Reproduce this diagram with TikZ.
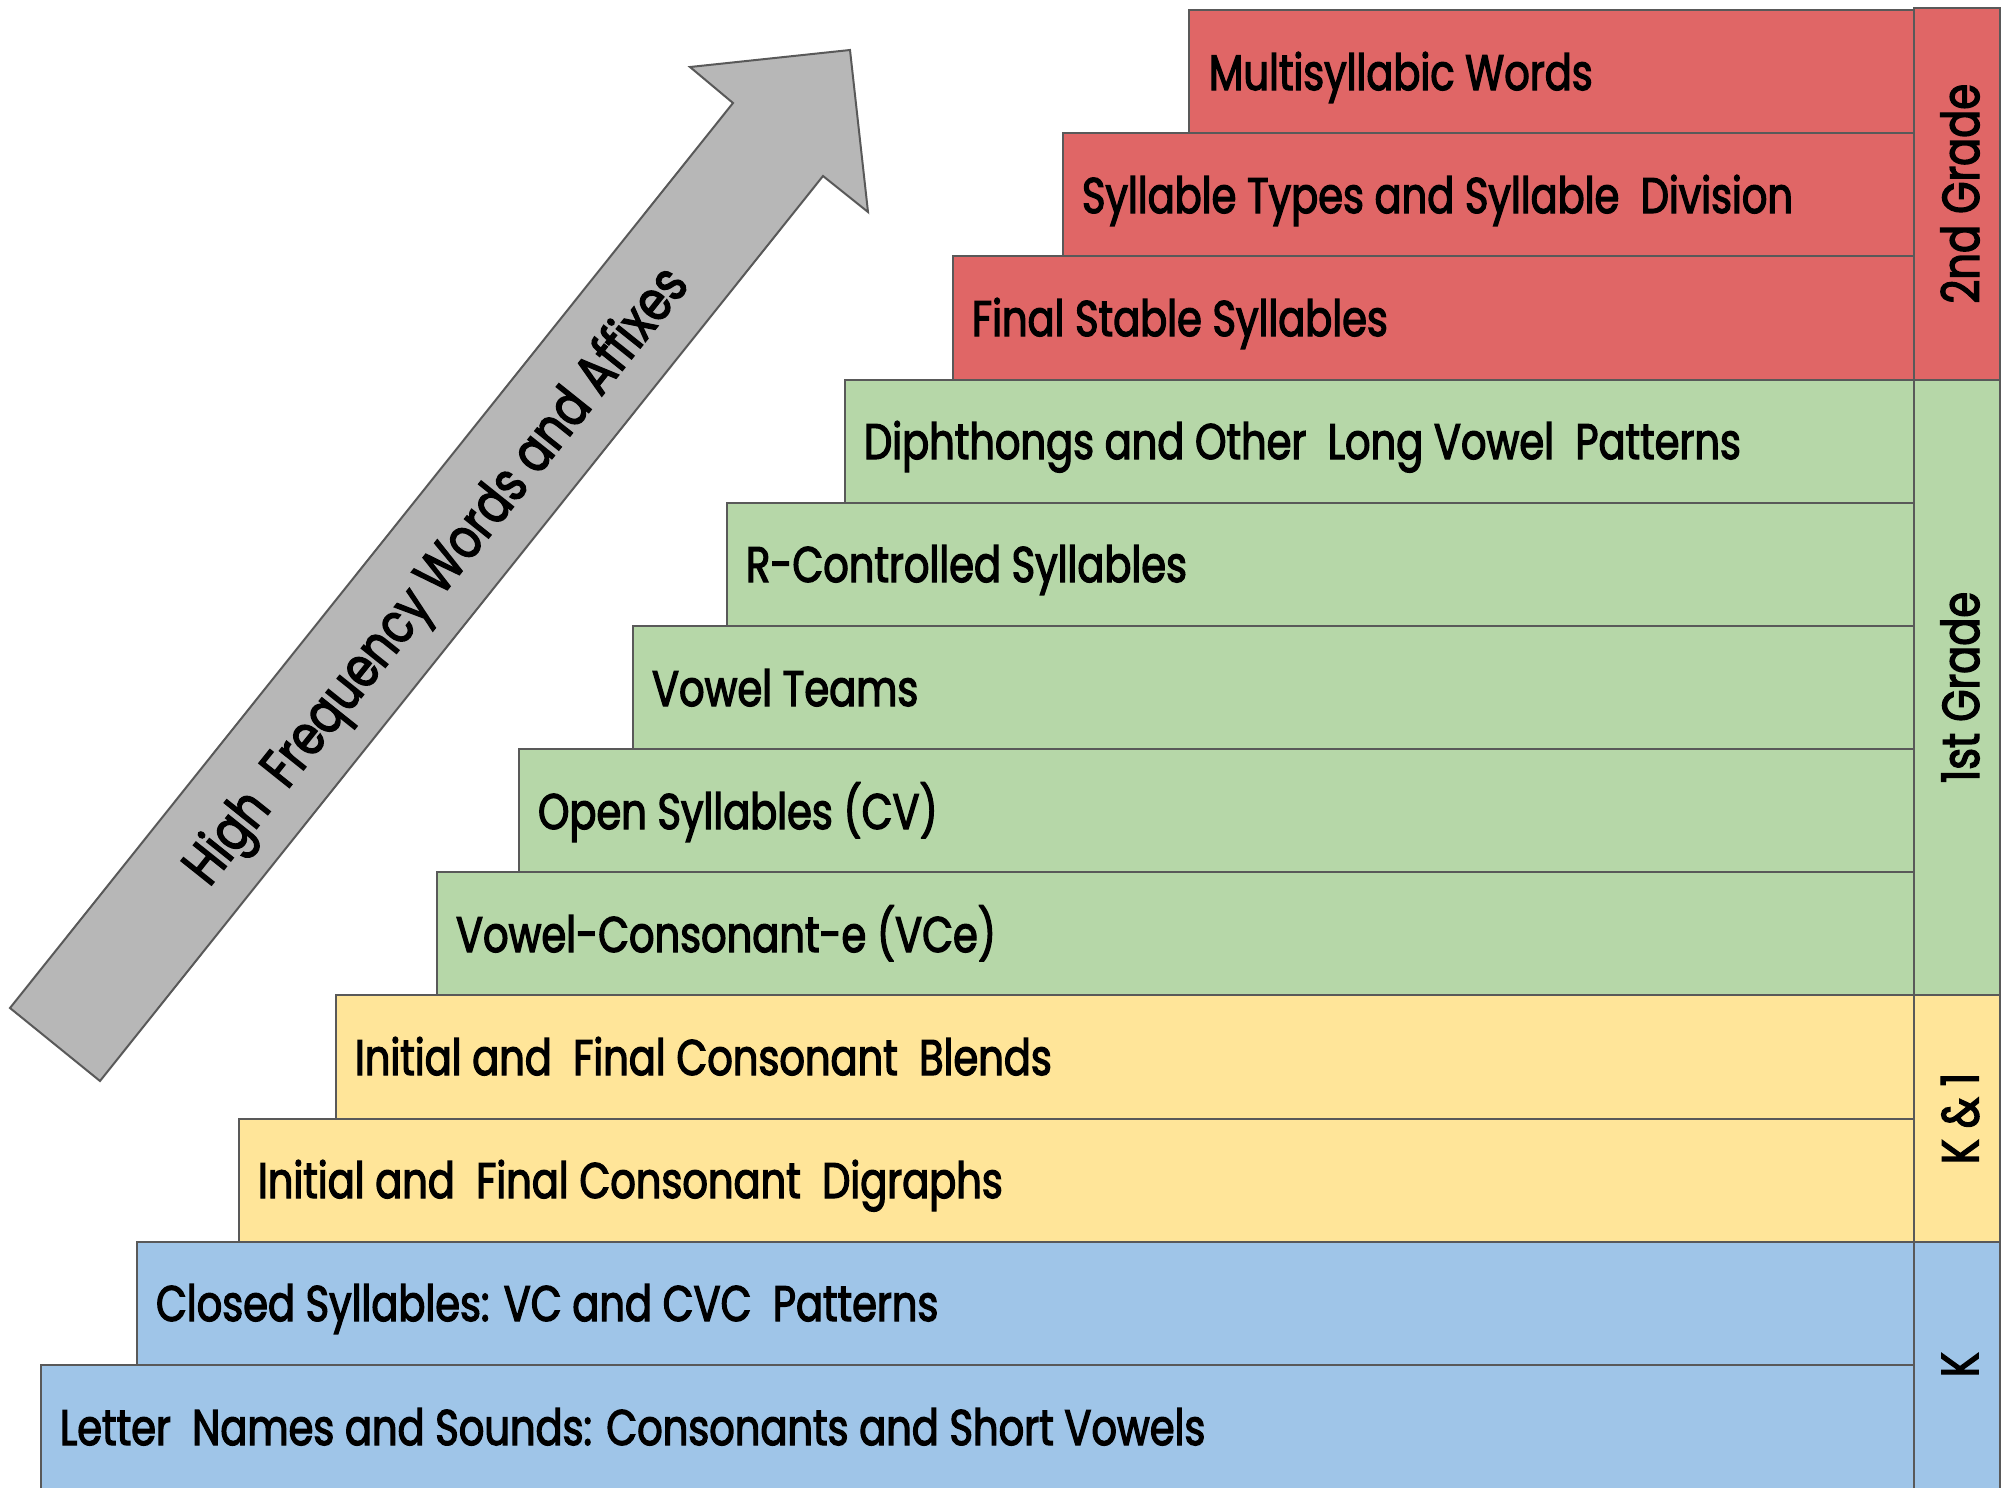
\documentclass[tikz,border=0pt]{standalone}
\usepackage{fontspec}
\setmainfont{Poppins}[FakeStretch=0.8,FakeBold=2.5]
\definecolor{gradetwo}{HTML}{E06666}
\definecolor{gradeone}{HTML}{B6D7A8}
\definecolor{kone}{HTML}{FFE599}
\definecolor{kinder}{HTML}{9FC5E8}
\definecolor{arrowgray}{HTML}{B7B7B7}
\definecolor{edgegray}{HTML}{595959}
\tikzset{every picture/.style={line width=1pt}}
\tikzset{
  stepbox/.style={draw=edgegray},
  steplabel/.style={anchor=base west,inner sep=0pt,font=\fontsize{25}{30}\selectfont},
  gradelabel/.style={rotate=90,inner sep=0pt,font=\fontsize{26}{30}\selectfont}
}
\begin{document}
\begin{tikzpicture}[x=0.5pt,y=0.5pt,yscale=-1,xscale=1]
\useasboundingbox (0,0) rectangle (2014,1488);

%Shape: Arrow
\draw[draw=edgegray,fill=arrowgray] (10,1008) -- (733,103) -- (690,67) -- (850,50) -- (868,212) -- (823,176) -- (100,1081) -- cycle ;
% Text Node
\node[font=\fontsize{28}{30}\selectfont,rotate=51.4] (hfw) at (439,578) {High~ Frequency Words and Affixes};

%Shape: Rectangle
\draw[stepbox,fill=gradetwo] (1189,10) rectangle (1914,133.2) ;
\draw[stepbox,fill=gradetwo] (1063,133.2) rectangle (1914,256.3) ;
\draw[stepbox,fill=gradetwo] (953,256.3) rectangle (1914,379.5) ;
\draw[stepbox,fill=gradeone] (845,379.5) rectangle (1914,502.7) ;
\draw[stepbox,fill=gradeone] (727,502.7) rectangle (1914,625.8) ;
\draw[stepbox,fill=gradeone] (633,625.8) rectangle (1914,749) ;
\draw[stepbox,fill=gradeone] (519,749) rectangle (1914,872.2) ;
\draw[stepbox,fill=gradeone] (437,872.2) rectangle (1914,995.3) ;
\draw[stepbox,fill=kone] (336,995.3) rectangle (1914,1118.5) ;
\draw[stepbox,fill=kone] (239,1118.5) rectangle (1914,1241.7) ;
\draw[stepbox,fill=kinder] (137,1241.7) rectangle (1914,1364.8) ;
\draw[stepbox,fill=kinder] (41,1364.8) rectangle (1914,1490) ;

% Text Node
\node[steplabel] (multi) at (1208,90) {Multisyllabic Words};
\node[steplabel] (types) at (1081,213) {Syllable Types and Syllable~ Division};
\node[steplabel] (stable) at (971,336) {Final Stable Syllables};
\node[steplabel] (diph) at (863,459) {Diphthongs and Other~ Long Vowel~ Patterns};
\node[steplabel] (rctrl) at (745,582) {R-Controlled Syllables};
\node[steplabel] (teams) at (651,706) {Vowel Teams};
\node[steplabel] (open) at (537,829) {Open Syllables (CV)};
\node[steplabel] (vce) at (455,952) {Vowel-Consonant-e (VCe)};
\node[steplabel] (blends) at (354,1075) {Initial and~ Final Consonant~ Blends};
\node[steplabel] (digraphs) at (257,1198) {Initial and~ Final Consonant~ Digraphs};
\node[steplabel] (closed) at (155,1321) {Closed Syllables: VC and CVC~ Patterns};
\node[steplabel] (letters) at (59,1445) {Letter~ Names and Sounds: Consonants and Short Vowels};

%Shape: Rectangle
\draw[stepbox,fill=gradetwo] (1914,8) rectangle (2000,379.5) ;
\draw[stepbox,fill=gradeone] (1914,379.5) rectangle (2000,995.3) ;
\draw[stepbox,fill=kone] (1914,995.3) rectangle (2000,1241.7) ;
\draw[stepbox,fill=kinder] (1914,1241.7) rectangle (2000,1490) ;

% Text Node
\node[gradelabel] (second) at (1960,193.7) {2nd Grade};
\node[gradelabel] (first) at (1960,687.4) {1st Grade};
\node[gradelabel] (kandone) at (1960,1118.5) {K \& 1};
\node[gradelabel] (kgrade) at (1960,1364.8) {K};

\end{tikzpicture}
\end{document}
